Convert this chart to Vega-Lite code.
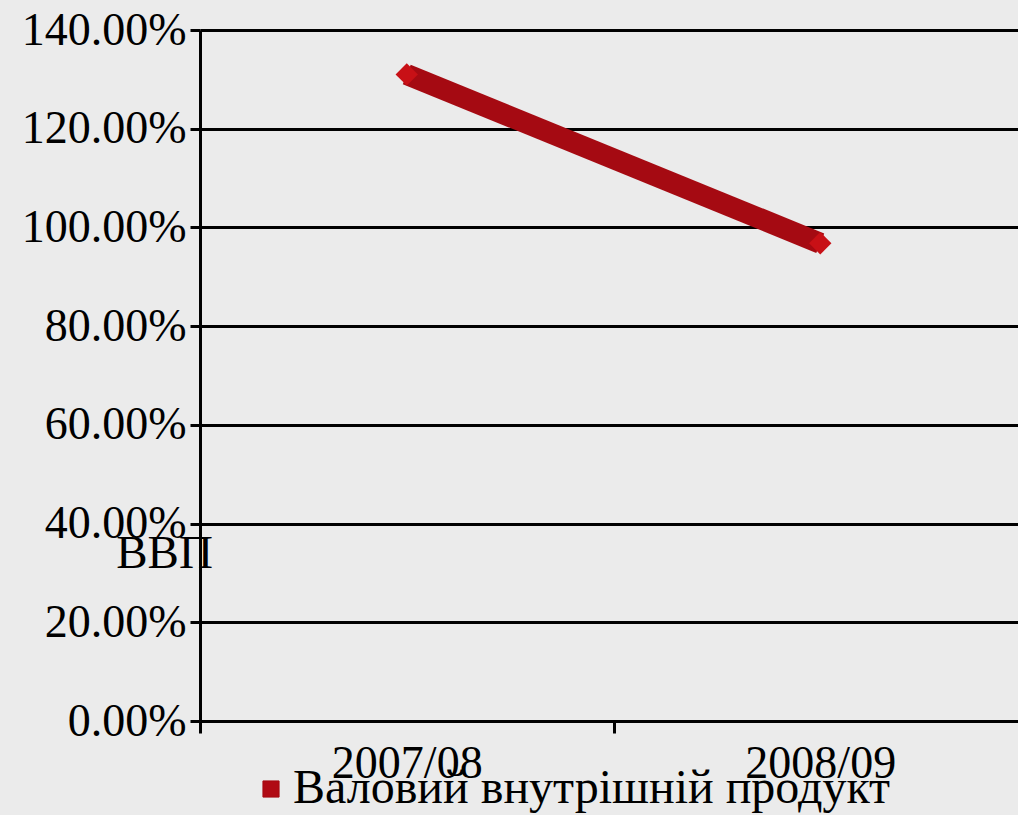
{
  "$schema": "https://vega.github.io/schema/vega-lite/v6.json",
  "autosize": {"type": "none"},
  "width": 827,
  "height": 691,
  "padding": {"left": 200, "top": 30, "right": 0, "bottom": 94},
  "background": "#ebebeb",
  "data": {"values": [
    {"year": "2007/08", "value": 1.31, "series": "Валовий внутрішній продукт"},
    {"year": "2008/09", "value": 0.968, "series": "Валовий внутрішній продукт"}
  ]},
  "config": {
    "view": {"stroke": null},
    "font": "Liberation Serif",
    "axis": {"labelFont": "Liberation Serif", "titleFont": "Liberation Serif", "labelColor": "#000", "titleColor": "#000"}
  },
  "encoding": {
    "x": {"field": "year", "type": "nominal", "sort": null,
      "scale": {"paddingInner": 0, "paddingOuter": 0},
      "axis": {"title": null, "labelAngle": 0, "labelFontSize": 46, "labelPadding": 44, "labelBaseline": "alphabetic", "labelOffset": 0,
        "domainColor": "#000", "domainWidth": 3, "tickColor": "#000", "tickWidth": 3, "tickSize": 12, "tickBand": "extent", "grid": false}},
    "y": {"field": "value", "type": "quantitative",
      "scale": {"domain": [0, 1.4], "nice": false, "zero": true},
      "axis": {"values": [0, 0.2, 0.4, 0.6, 0.8, 1.0, 1.2, 1.4], "format": ".2%", "labelFontSize": 46, "labelPadding": 4,
        "labelBaseline": "middle",
        "domainColor": "#000", "domainWidth": 3, "tickColor": "#000", "tickWidth": 3, "tickSize": 10,
        "grid": true, "gridColor": "#000", "gridWidth": 3, "gridOpacity": 1,
        "title": "ВВП", "titleAngle": 0, "titleFontSize": 47, "titleFontWeight": "normal",
        "titleX": -36, "titleY": 537, "titleAlign": "center", "titleBaseline": "alphabetic"}}
  },
  "layer": [
    {"mark": {"type": "line", "strokeWidth": 21, "strokeCap": "butt", "color": "#a50a12"},
     "encoding": {"color": {"field": "series", "type": "nominal",
        "scale": {"range": ["#a50a12"]},
        "legend": {"orient": "none", "legendX": 47, "legendY": 735, "title": null, "symbolType": "square", "symbolSize": 260,
          "symbolFillColor": "#b00a14", "symbolStrokeColor": "#8a0a10", "symbolStrokeWidth": 1,
          "labelFont": "Liberation Serif", "labelFontSize": 48, "labelColor": "#000", "labelLimit": 0, "labelOffset": -2, "symbolOffset": 0}}}},
    {"mark": {"type": "point", "shape": "diamond", "filled": true, "size": 500, "color": "#c81016", "opacity": 1}}
  ]
}
